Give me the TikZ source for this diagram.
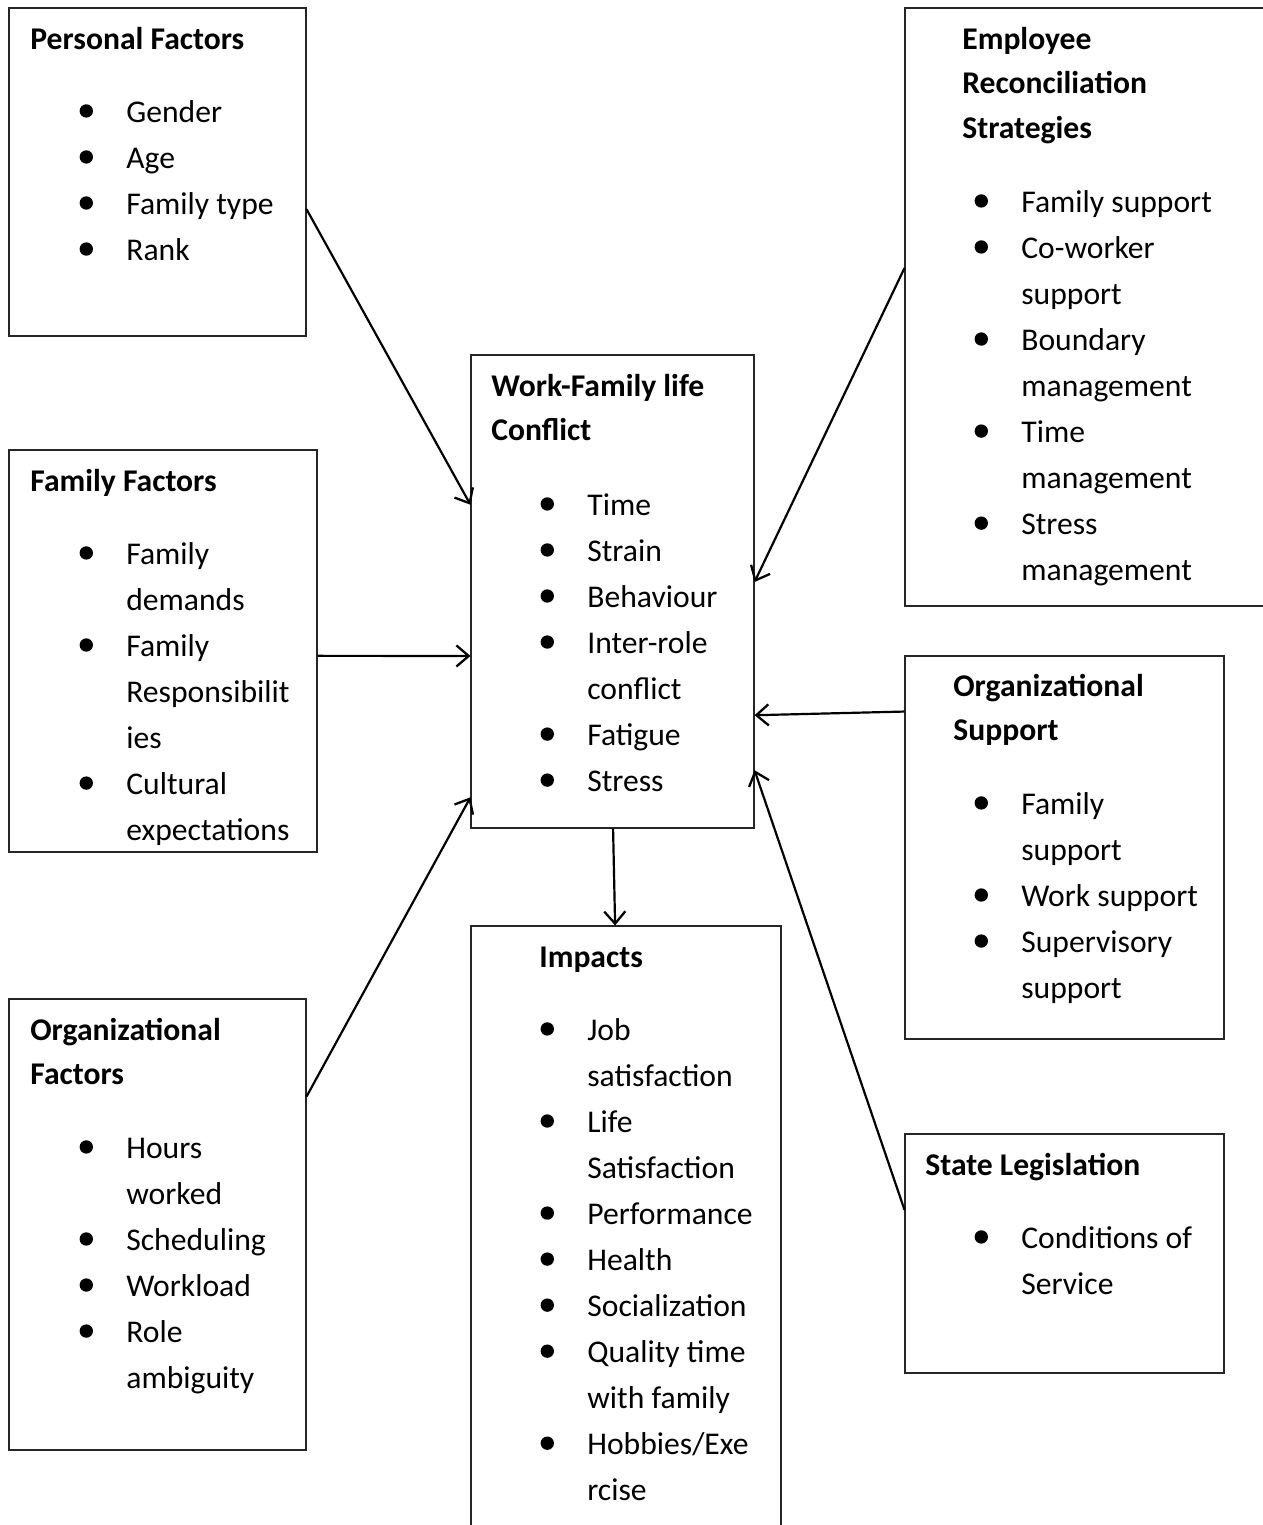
\documentclass[tikz,border=0pt]{standalone}
\usepackage{fontspec}
\setmainfont{Carlito}
\usetikzlibrary{fit,calc,arrows.meta}

\newcommand{\bl}{\llap{\makebox[26.6pt][l]{\raisebox{2.5pt}{\tikz\fill (0,0) circle (3.8pt);}}}}
\newcommand{\ml}[1]{\begin{tabular}[t]{@{}l@{}}#1\end{tabular}}

\tikzset{
  box/.style={draw=black!85, line width=0.6pt, inner sep=0pt},
  hd/.style={anchor=base west, inner sep=0pt, font=\fontsize{18}{25.5}\selectfont\bfseries},
  lst/.style={anchor=base west, inner sep=0pt},
  arr/.style={-{Straight Barb[length=7pt,width=12pt,line width=1.3pt]}, line width=1.25pt}
}

\begin{document}
\begin{tikzpicture}[x=0.02cm, y=-0.02cm, font=\fontsize{18}{26.2}\selectfont]
  \useasboundingbox (0,0) rectangle (1263,1525);

  % boxes
  \node[box, fit={(9,8) (306,336)}] (pers) {};
  \node[box, fit={(9,450) (317,852)}] (fam) {};
  \node[box, fit={(9,999) (306,1450)}] (orgf) {};
  \node[box, fit={(471,355) (754,828)}] (wfc) {};
  \node[box, fit={(471,926) (781,1545)}] (imp) {};
  \node[box, fit={(905,8) (1275,606)}] (emp) {};
  \node[box, fit={(905,656) (1224,1039)}] (orgs) {};
  \node[box, fit={(905,1134) (1224,1373)}] (state) {};

  % personal factors
  \node[hd] (pers-t) at (30,49) {Personal Factors};
  \node[lst] (pers-l) at (126,122) {\ml{\bl Gender\\ \bl Age\\ \bl Family type\\ \bl Rank}};

  % family factors
  \node[hd] (fam-t) at (30,491) {Family Factors};
  \node[lst] (fam-l) at (126,564) {\ml{\bl Family\\ demands\\ \bl Family\\ Responsibilit\\ ies\\ \bl Cultural\\ expectations}};

  % organizational factors
  \node[hd] (orgf-t) at (30,1040) {\ml{Organizational\\ Factors}};
  \node[lst] (orgf-l) at (126,1158) {\ml{\bl Hours\\ worked\\ \bl Scheduling\\ \bl Workload\\ \bl Role\\ ambiguity}};

  % work-family conflict
  \node[hd] (wfc-t) at (491,396) {\ml{Work-Family life\\ Conflict}};
  \node[lst] (wfc-l) at (587,515) {\ml{\bl Time\\ \bl Strain\\ \bl Behaviour\\ \bl Inter-role\\ conflict\\ \bl Fatigue\\ \bl Stress}};

  % impacts
  \node[hd] (imp-t) at (539,967) {Impacts};
  \node[lst] (imp-l) at (587,1040) {\ml{\bl Job\\ satisfaction\\ \bl Life\\ Satisfaction\\ \bl Performance\\ \bl Health\\ \bl Socialization\\ \bl Quality time\\ with family\\ \bl Hobbies/Exe\\ rcise}};

  % employee strategies
  \node[hd] (emp-t) at (962,49) {\ml{Employee\\ Reconciliation\\ Strategies}};
  \node[lst] (emp-l) at (1021,212) {\ml{\bl Family support\\ \bl Co-worker\\ support\\ \bl Boundary\\ management\\ \bl Time\\ management\\ \bl Stress\\ management}};

  % organizational support
  \node[hd] (orgs-t) at (953,696) {\ml{Organizational\\ Support}};
  \node[lst] (orgs-l) at (1021,814) {\ml{\bl Family\\ support\\ \bl Work support\\ \bl Supervisory\\ support}};

  % state legislation
  \node[hd] (state-t) at (925,1175) {State Legislation};
  \node[lst] (state-l) at (1021,1248) {\ml{\bl Conditions of\\ Service}};

  % arrows
  \draw[arr] ($(pers.north east)!0.613!(pers.south east)$) -- ($(wfc.north west)!0.317!(wfc.south west)$);
  \draw[arr] ($(fam.north east)!0.512!(fam.south east)$) -- ($(wfc.north west)!0.636!(wfc.south west)$);
  \draw[arr] ($(orgf.north east)!0.217!(orgf.south east)$) -- ($(wfc.north west)!0.934!(wfc.south west)$);
  \draw[arr] ($(emp.north west)!0.435!(emp.south west)$) -- ($(wfc.north east)!0.480!(wfc.south east)$);
  \draw[arr] ($(orgs.north west)!0.146!(orgs.south west)$) -- ($(wfc.north east)!0.761!(wfc.south east)$);
  \draw[arr] ($(state.north west)!0.318!(state.south west)$) -- ($(wfc.north east)!0.877!(wfc.south east)$);
  \draw[arr] ($(wfc.south west)!0.502!(wfc.south east)$) -- ($(imp.north west)!0.465!(imp.north east)$);
\end{tikzpicture}
\end{document}
